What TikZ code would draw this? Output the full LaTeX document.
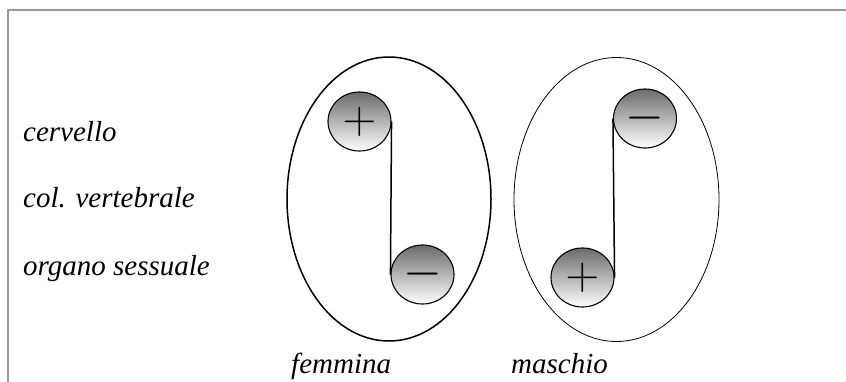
\documentclass[tikz,border=0pt]{standalone}
\usepackage{graphicx}
\usepackage{fontspec}
\setmainfont{Liberation Serif}
\usetikzlibrary{shapes.geometric}

\begin{document}
\begin{tikzpicture}[x=1pt,y=-1pt,
        body/.style={ellipse,draw,minimum width=204pt,minimum height=284pt},
        pole/.style={ellipse,draw,line width=1.1pt,top color=black!58,bottom color=white,
          minimum width=63pt,minimum height=59pt,inner sep=0pt,
          font=\fontsize{20}{20}\selectfont},
        lab/.style={anchor=base west,inner sep=0pt,font=\fontsize{29}{29}\selectfont\itshape}]

  \useasboundingbox (0,0) rectangle (846,382);
  \draw[line width=2pt,black!40] (7.5,382) -- (7.5,10) -- (846,10);

  \node[lab] (cervello) at (23,142) {cervello};
  \node[lab] (colonna) at (23,208) {col. vertebrale};
  \node[lab] (organo) at (23,275) {organo sessuale};

  \node[body,line width=1.5pt] (femmina) at (389,199) {};
  \node[body,line width=0.8pt,minimum width=205pt] (maschio) at (616.5,199.5) {};

  \node[pole] (plusF) at (359.5,121.5) {\scalebox{2.25}{$+$}};
  \node[pole] (minusF) at (422.5,274.5) {\scalebox{2.4}{$-$}};
  \node[pole] (minusM) at (645,118.5) {\scalebox{2.4}{$-$}};
  \node[pole] (plusM) at (582.5,277.5) {\scalebox{2.25}{$+$}};

  \path[draw,line width=1.5pt] (plusF.east) -- (minusF.west)
        (minusM.west) -- (plusM.east);

  \node[lab] (fem) at (291,373) {femmina};
  \node[lab] (mas) at (511,373) {maschio};

\end{tikzpicture}
\end{document}
